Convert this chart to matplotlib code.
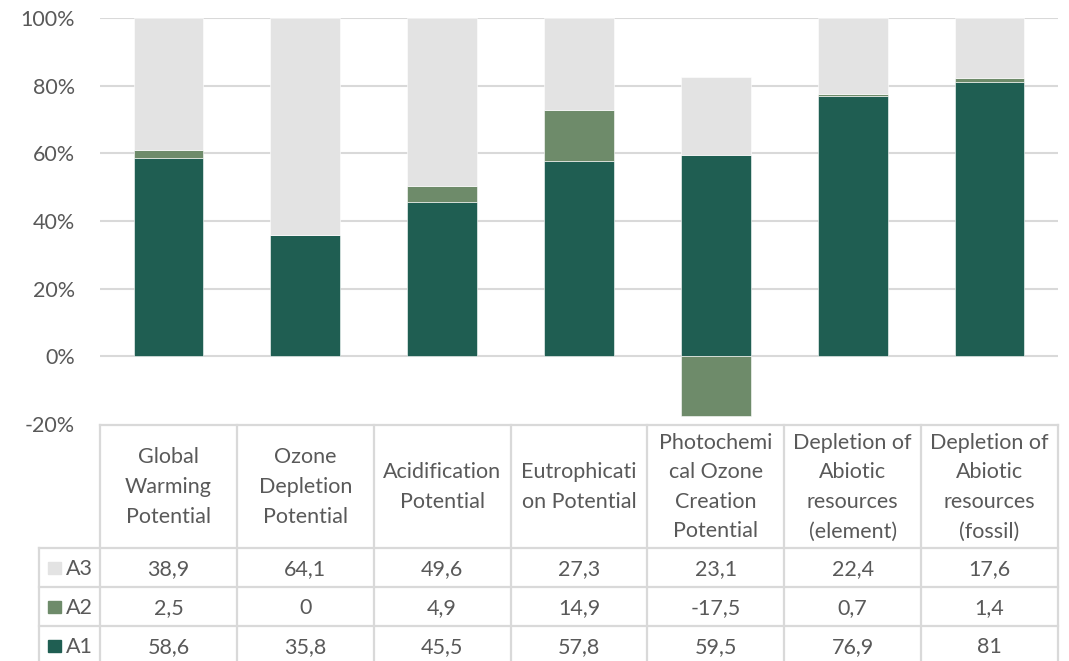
import numpy as np
import matplotlib.pyplot as plt

plt.rcParams['font.family'] = ['Lato', 'DejaVu Sans']

categories = ['Global\nWarming\nPotential', 'Ozone\nDepletion\nPotential', 'Acidification\nPotential',
              'Eutrophicati\non Potential', 'Photochemi\ncal Ozone\nCreation\nPotential',
              'Depletion of\nAbiotic\nresources\n(element)', 'Depletion of\nAbiotic\nresources\n(fossil)']
a1 = [58.6, 35.8, 45.5, 57.8, 59.5, 76.9, 81]
a2 = [2.5, 0, 4.9, 14.9, -17.5, 0.7, 1.4]
a3 = [38.9, 64.1, 49.6, 27.3, 23.1, 22.4, 17.6]
series = ['A3', 'A2', 'A1']
colors = {'A1': '#1f5e52', 'A2': '#6e8b6a', 'A3': '#e3e3e3'}
yticks = [-20, 0, 20, 40, 60, 80, 100]

W, H = 1069, 661
fig = plt.figure(figsize=(W / 100, H / 100), dpi=100)
txt = '#595959'
grid = '#d9d9d9'
fs = 15.5

ax = fig.add_axes([100 / W, (H - 424) / H, 958 / W, (424 - 18) / H])
x = np.arange(len(categories))
a1 = np.array(a1); a2 = np.array(a2); a3 = np.array(a3)

# excel style stacking: positives up, negatives down
pos_base = np.zeros(len(x)); neg_base = np.zeros(len(x))
for name, vals in [('A1', a1), ('A2', a2), ('A3', a3)]:
    bottom = np.where(vals >= 0, pos_base, neg_base)
    ax.bar(x, vals, 0.51, bottom=bottom, color=colors[name], edgecolor='white', linewidth=0.4, zorder=3)
    pos_base = pos_base + np.where(vals >= 0, vals, 0)
    neg_base = neg_base + np.where(vals < 0, vals, 0)

ax.set_xlim(-0.5, len(x) - 0.5)
ax.set_ylim(-20, 100)
ax.set_yticks(yticks)
ax.set_yticklabels([f'{t}%' for t in yticks], color=txt, fontsize=fs)
ax.tick_params(length=0, pad=18)
ax.set_xticks([])
for t in yticks[1:]:
    ax.axhline(t, color=grid, lw=1.5, zorder=1)
for s in ax.spines.values():
    s.set_visible(False)
ax.patch.set_alpha(0)

# data table below
tax = fig.add_axes([100 / W, 0, 958 / W, (H - 424) / H])
tax.set_xlim(-0.5, len(x) - 0.5)
tax.set_ylim(H, 424)
tax.axis('off')
leg_left = -0.5 - 61 / 136.9
rows = [548, 587, 626, 665]
lk = dict(color=grid, lw=1.6, clip_on=False)
tax.plot([-0.5, 6.5], [425, 425], **lk)
for r in rows[:-1]:
    tax.plot([leg_left, 6.5], [r, r], **lk)
for i in range(len(x) + 1):
    tax.plot([i - 0.5, i - 0.5], [425, H], **lk)
tax.plot([leg_left, leg_left], [548, H], **lk)

for i, c in enumerate(categories):
    tax.text(i, 487, c, ha='center', va='center', fontsize=fs, color=txt, linespacing=1.6)

data = {'A1': a1, 'A2': a2, 'A3': a3}
for j, name in enumerate(series):
    yc = (rows[j] + rows[j + 1]) / 2 + 1.5
    tax.add_patch(plt.Rectangle((leg_left + 9 / 136.9, yc - 6.5), 13 / 136.9, 12,
                                color=colors[name], clip_on=False))
    tax.text(leg_left + 27 / 136.9, yc, name, ha='left', va='center', fontsize=fs, color=txt, clip_on=False)
    for i, v in enumerate(data[name]):
        tax.text(i, yc, f'{v:g}'.replace('.', ','), ha='center', va='center', fontsize=fs, color=txt)

fig.savefig('out.png', dpi=100)
